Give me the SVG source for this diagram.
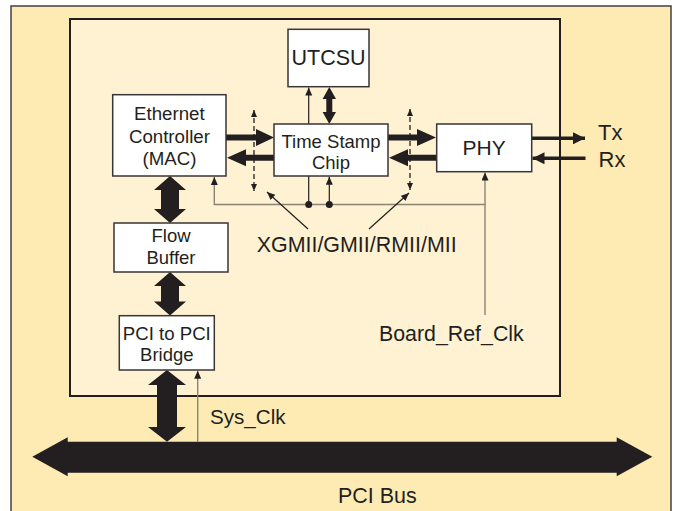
<svg xmlns="http://www.w3.org/2000/svg" width="675" height="511" viewBox="0 0 675 511">
<defs>
<style>
.box{fill:#ffffff;stroke:#3a3536;stroke-width:1.5}
.t{font-family:"Liberation Sans",Arial,sans-serif;fill:#231f20;text-anchor:middle}
.ts{font-family:"Liberation Sans",Arial,sans-serif;fill:#231f20}
.thick{fill:#231f20;stroke:none}
.thin{stroke:#231f20;stroke-width:1.2;fill:none}
.gray{stroke:#8c8373;stroke-width:1.4;fill:none}
.dash{stroke:#231f20;stroke-width:1.3;fill:none;stroke-dasharray:5,3}
.sig{stroke:#231f20;stroke-width:3.4;fill:none}
</style>
<marker id="ah" markerUnits="userSpaceOnUse" markerWidth="9" markerHeight="8" refX="8" refY="3.5" orient="auto">
<path d="M0,0 L8,3.5 L0,7 z" fill="#231f20"/>
</marker>
<marker id="ahs" markerUnits="userSpaceOnUse" markerWidth="8" markerHeight="7" refX="7" refY="3" orient="auto-start-reverse">
<path d="M0,0 L7,3 L0,6 z" fill="#231f20"/>
</marker>
<marker id="ahb" markerUnits="userSpaceOnUse" markerWidth="13" markerHeight="12" refX="12" refY="6" orient="auto">
<path d="M0,0 L12,6 L0,12 z" fill="#231f20"/>
</marker>
</defs>

<g id="outer-board">
<rect x="11" y="6" width="660" height="520" fill="#feebb4" stroke="#444041" stroke-width="1.5"/>
</g>
<g id="inner-card">
<rect x="70" y="19" width="490" height="377" fill="#fef2d2" stroke="#231f20" stroke-width="2"/>
</g>

<g id="connectors">
<polygon class="thick" points="32.3,456.7 67.7,437.3 67.7,441.7 616.7,441.7 616.7,437.3 652.3,456.7 616.7,476.3 616.7,472.7 67.7,472.7 67.7,476.3"/>
<polygon class="thick" points="226,134.5 256,134.5 256,129 274,137.5 256,146 256,140.5 226,140.5"/>
<polygon class="thick" points="274,154.7 246,154.7 246,149.2 227,157.7 246,166.2 246,160.7 274,160.7"/>
<polygon class="thick" points="388,134.5 417,134.5 417,129 436,137.5 417,146 417,140.5 388,140.5"/>
<polygon class="thick" points="436,154.7 408,154.7 408,149.2 389,157.7 408,166.2 408,160.7 436,160.7"/>
<polygon class="thick" points="329.3,87 336,99 332.3,99 332.3,112 336,112 329.3,124 322.6,112 326.3,112 326.3,99 322.6,99"/>
<line class="thin" x1="308.7" y1="124" x2="308.7" y2="87.5" marker-end="url(#ah)"/>
<polygon class="thick" points="170,176 186,190 179,190 179,209 186,209 170,223 154,209 161,209 161,190 154,190"/>
<polygon class="thick" points="170,272 186,286 179,286 179,301.5 186,301.5 170,315.5 154,301.5 161,301.5 161,286 154,286"/>
<polygon class="thick" points="167,370 186,385 177,385 177,427 186,427 167,441.7 148,427 157,427 157,385 148,385"/>
<line class="gray" x1="197.7" y1="441.7" x2="197.7" y2="370.8" marker-end="url(#ah)"/>
<line class="dash" x1="254" y1="110" x2="254" y2="191" marker-start="url(#ahs)" marker-end="url(#ahs)"/>
<line class="dash" x1="410" y1="109" x2="410" y2="190" marker-start="url(#ahs)" marker-end="url(#ahs)"/>
<polyline class="gray" points="485,315 485,204.5 214.3,204.5 214.3,177" marker-end="url(#ah)"/>
<line class="gray" x1="485" y1="205" x2="485" y2="172.5" marker-end="url(#ah)"/>
<line class="thin" x1="308.7" y1="176" x2="308.7" y2="204.5"/>
<line class="thin" x1="329.3" y1="204.5" x2="329.3" y2="176.8" marker-end="url(#ah)"/>
<circle cx="308.7" cy="204.5" r="3.5" fill="#231f20"/>
<circle cx="329.3" cy="204.5" r="3.5" fill="#231f20"/>
<line class="thin" x1="308" y1="229" x2="267" y2="192" marker-end="url(#ah)"/>
<line class="thin" x1="369" y1="229" x2="409" y2="193" marker-end="url(#ah)"/>
<line class="sig" x1="531.7" y1="138.3" x2="585" y2="138.3" marker-end="url(#ahb)"/>
<line class="sig" x1="585.5" y1="158.3" x2="532.5" y2="158.3" marker-end="url(#ahb)"/>
</g>

<g id="utcsu">
<rect class="box" x="288" y="29.3" width="81" height="57.4"/>
<text class="t" x="328.5" y="64.5" font-size="21.5">UTCSU</text>
</g>
<g id="ethernet-controller">
<rect class="box" x="112.7" y="94.7" width="113.3" height="81.3"/>
<text class="t" x="169.4" y="120" font-size="18.7">Ethernet</text>
<text class="t" x="169.4" y="142.5" font-size="18.7">Controller</text>
<text class="t" x="169.4" y="164.5" font-size="18.7">(MAC)</text>
</g>
<g id="time-stamp-chip">
<rect class="box" x="274" y="124" width="114" height="52"/>
<text class="t" x="331" y="147.5" font-size="18.5">Time Stamp</text>
<text class="t" x="331" y="169" font-size="18.5">Chip</text>
</g>
<g id="phy">
<rect class="box" x="436.7" y="124" width="95" height="47.7"/>
<text class="t" x="484.2" y="154.5" font-size="21">PHY</text>
</g>
<g id="flow-buffer">
<rect class="box" x="114" y="223" width="114" height="49"/>
<text class="t" x="171" y="241.5" font-size="18.5">Flow</text>
<text class="t" x="171" y="263.5" font-size="18.5">Buffer</text>
</g>
<g id="pci-bridge">
<rect class="box" x="119.3" y="315.7" width="95" height="54.3"/>
<text class="t" x="166.8" y="339.5" font-size="18.5" textLength="88" lengthAdjust="spacingAndGlyphs">PCI to PCI</text>
<text class="t" x="166.8" y="361" font-size="18.5">Bridge</text>
</g>

<g id="labels">
<text class="ts" x="598" y="140" font-size="22">Tx</text>
<text class="ts" x="598.5" y="166.5" font-size="22">Rx</text>
<text class="ts" x="256.7" y="252" font-size="21.5" textLength="200" lengthAdjust="spacingAndGlyphs">XGMII/GMII/RMII/MII</text>
<text class="ts" x="379" y="340.7" font-size="21.5" textLength="144.7" lengthAdjust="spacingAndGlyphs">Board_Ref_Clk</text>
<text class="ts" x="210" y="424" font-size="21" textLength="75.6" lengthAdjust="spacingAndGlyphs">Sys_Clk</text>
<text class="t" x="377.3" y="503" font-size="21.5" textLength="78.7" lengthAdjust="spacingAndGlyphs">PCI Bus</text>
</g>
</svg>
